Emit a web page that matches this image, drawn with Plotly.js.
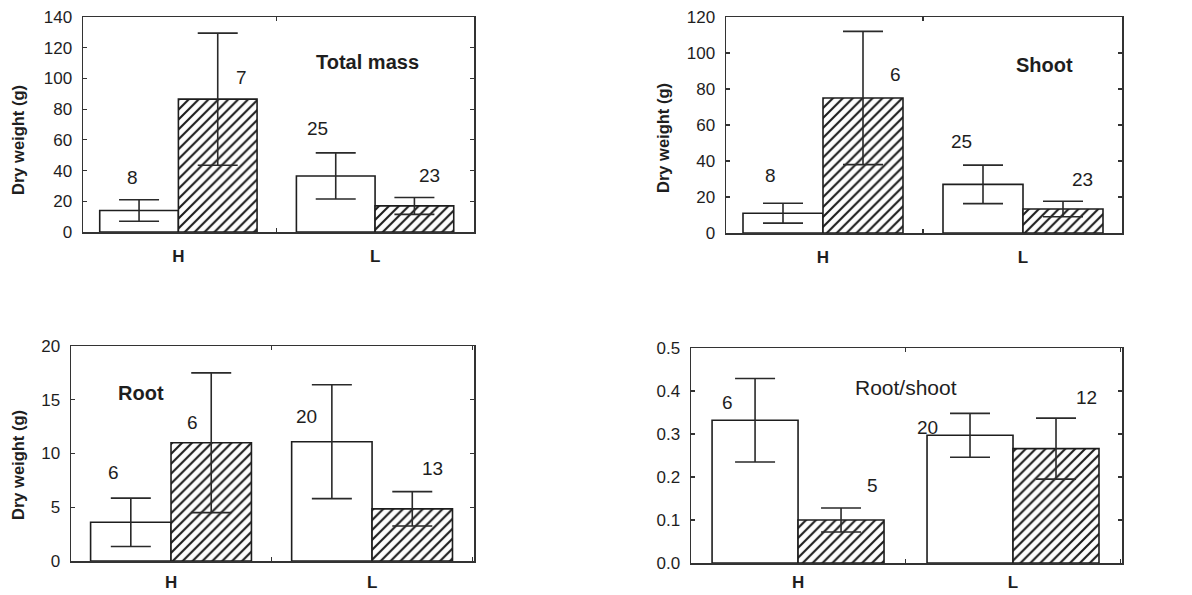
<!DOCTYPE html>
<html>
<head>
<meta charset="utf-8">
<script src="https://cdn.plot.ly/plotly-3.0.1.min.js"></script>
<style>html,body{margin:0;padding:0;background:#fff;}#chart{width:1192px;height:595px;}</style>
</head>
<body>
<div id="chart"></div>
<script>
// ---------- data ----------
const groups = ['H', 'L'];

const totalOpen = [14, 36.5];
const totalOpenErr = [7, 15];
const totalHatch = [86.5, 17];
const totalHatchErr = [43, 5.5];
const totalOpenN = [8, 25];
const totalHatchN = [7, 23];

const shootOpen = [11, 27];
const shootOpenErr = [5.5, 10.7];
const shootHatch = [75, 13.3];
const shootHatchErr = [37, 4.3];
const shootOpenN = [8, 25];
const shootHatchN = [6, 23];

const rootOpen = [3.6, 11.1];
const rootOpenErr = [2.25, 5.3];
const rootHatch = [11, 4.85];
const rootHatchErr = [6.5, 1.6];
const rootOpenN = [6, 20];
const rootHatchN = [6, 13];

const ratioOpen = [0.332, 0.297];
const ratioOpenErr = [0.097, 0.051];
const ratioHatch = [0.1, 0.266];
const ratioHatchErr = [0.028, 0.071];
const ratioOpenN = [6, 20];
const ratioHatchN = [5, 12];

const panelTitles = ['Total mass', 'Shoot', 'Root', 'Root/shoot'];
const yTitle = 'Dry weight (g)';

// ---------- styling / layout ----------
const FONT = '"Liberation Sans", Arial, sans-serif';
const INK = '#1e1e1e';
const W = 1192, H = 595;

const panels = [
  {open: totalOpen, openErr: totalOpenErr, hatch: totalHatch, hatchErr: totalHatchErr, openN: totalOpenN, hatchN: totalHatchN,
   px: [83, 474], py: [17, 232], yr: [0, 140], dtick: 20, fmt: '', xr: [-0.485, 1.503], xso: 8,
   nPos: [[-0.234, 35.8], [0.32, 100.9], [0.706, 67.7], [1.279, 36.5]], tPos: [0.959, 110.7], bold: true, tsize: 20,
   ytitle: [18, 140]},
  {open: shootOpen, openErr: shootOpenErr, hatch: shootHatch, hatchErr: shootHatchErr, openN: shootOpenN, hatchN: shootHatchN,
   px: [726, 1122], py: [17, 233], yr: [0, 120], dtick: 20, fmt: '', xr: [-0.485, 1.495], xso: 8,
   nPos: [[-0.265, 31.7], [0.36, 87.8], [0.69, 50.6], [1.295, 30]], tPos: [1.105, 93.3], bold: true, tsize: 20,
   ytitle: [663, 138]},
  {open: rootOpen, openErr: rootOpenErr, hatch: rootHatch, hatchErr: rootHatchErr, openN: rootOpenN, hatchN: rootHatchN,
   px: [71, 474], py: [346, 561], yr: [0, 20], dtick: 5, fmt: '', xr: [-0.4975, 1.507], xso: 5,
   nPos: [[-0.284, 8.19], [0.109, 12.9], [0.672, 13.4], [1.30, 8.56]], tPos: [-0.149, 15.6], bold: true, tsize: 20,
   ytitle: [18, 465]},
  {open: ratioOpen, openErr: ratioOpenErr, hatch: ratioHatch, hatchErr: ratioHatchErr, openN: ratioOpenN, hatchN: ratioHatchN,
   px: [691, 1122], py: [348, 563], yr: [0, 0.5], dtick: 0.1, fmt: '.1f', xr: [-0.498, 1.507], xso: 3,
   nPos: [[-0.326, 0.374], [0.344, 0.181], [0.6, 0.316], [1.344, 0.386]], tPos: [0.502, 0.407], bold: false, tsize: 21,
   ytitle: null}
];

const data = [];
const layout = {
  width: W, height: H,
  margin: {l: 0, r: 0, t: 0, b: 0},
  paper_bgcolor: '#fff', plot_bgcolor: '#fff',
  showlegend: false,
  barmode: 'group', bargap: 0.2, bargroupgap: 0,
  font: {family: FONT, color: INK, size: 16},
  annotations: []
};

panels.forEach((p, i) => {
  const k = i === 0 ? '' : String(i + 1);
  const xa = 'x' + k, ya = 'y' + k;
  const errStyle = {type: 'data', visible: true, color: '#2a2a2a', thickness: 1.6, width: 20};
  data.push({
    type: 'bar', x: groups, y: p.open, xaxis: xa, yaxis: ya,
    marker: {color: '#fff', line: {color: INK, width: 1.6}},
    error_y: Object.assign({array: p.openErr}, errStyle),
    hoverinfo: 'skip'
  });
  data.push({
    type: 'bar', x: groups, y: p.hatch, xaxis: xa, yaxis: ya,
    marker: {color: '#fff', line: {color: INK, width: 1.6},
             pattern: {shape: '/', fgcolor: '#1e1e1e', bgcolor: '#fff', size: 7, solidity: 0.3}},
    error_y: Object.assign({array: p.hatchErr}, errStyle),
    hoverinfo: 'skip'
  });
  const axCommon = {
    showgrid: false, zeroline: false, showline: true, linecolor: '#333', linewidth: 1.5,
    mirror: 'ticks', ticks: 'inside', ticklen: 4, tickcolor: '#333', tickwidth: 1.2
  };
  layout['xaxis' + k] = Object.assign({}, axCommon, {
    domain: [p.px[0] / W, p.px[1] / W], anchor: ya, type: 'category', range: p.xr,
    tickson: 'boundaries', ticklabelstandoff: p.xso,
    tickfont: {family: FONT, size: 17, color: INK, weight: 'bold'}
  });
  layout['yaxis' + k] = Object.assign({}, axCommon, {
    domain: [1 - p.py[1] / H, 1 - p.py[0] / H], anchor: xa, range: p.yr, dtick: p.dtick,
    tickformat: p.fmt, ticklabelstandoff: 6,
    tickfont: {family: FONT, size: 17, color: INK}
  });
  const ns = [p.openN[0], p.hatchN[0], p.openN[1], p.hatchN[1]];
  ns.forEach((n, j) => {
    layout.annotations.push({
      xref: xa, yref: ya, x: p.nPos[j][0], y: p.nPos[j][1], text: String(n), showarrow: false,
      font: {family: FONT, size: 19, color: INK}, xanchor: 'center', yanchor: 'middle'
    });
  });
  layout.annotations.push({
    xref: xa, yref: ya, x: p.tPos[0], y: p.tPos[1], text: panelTitles[i], showarrow: false,
    font: {family: FONT, size: p.tsize, color: INK, weight: p.bold ? 'bold' : 'normal'},
    xanchor: 'center', yanchor: 'middle'
  });
  if (p.ytitle) {
    layout.annotations.push({
      xref: 'paper', yref: 'paper', x: p.ytitle[0] / W, y: 1 - p.ytitle[1] / H,
      text: yTitle, showarrow: false, textangle: -90,
      font: {family: FONT, size: 16.5, color: INK, weight: 'bold'},
      xanchor: 'center', yanchor: 'middle'
    });
  }
});

Plotly.newPlot('chart', data, layout, {staticPlot: true, displayModeBar: false});
</script>
</body>
</html>
